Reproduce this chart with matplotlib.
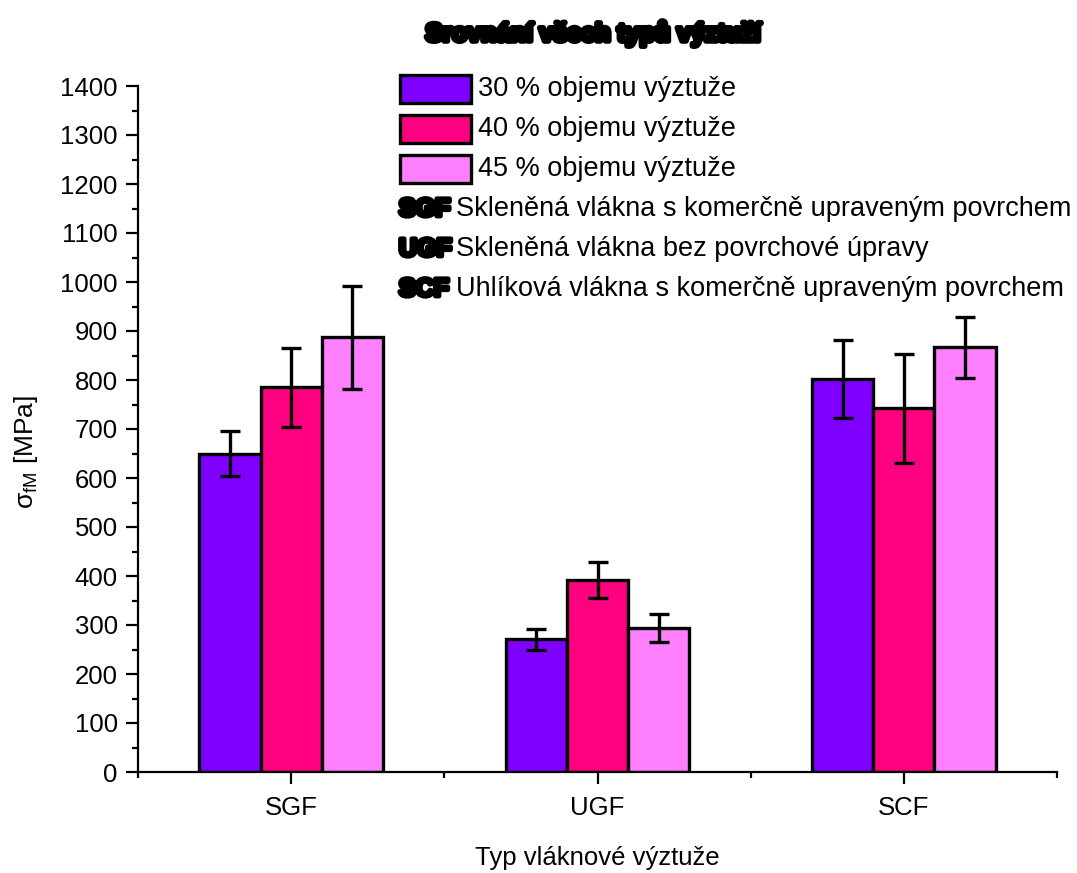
import matplotlib
matplotlib.use("Agg")
import matplotlib.pyplot as plt
import matplotlib.patheffects as pe
from matplotlib.patches import Rectangle
from matplotlib.ticker import MultipleLocator, FixedLocator
import numpy as np

plt.rcParams['font.family'] = ['Liberation Sans', 'DejaVu Sans']
plt.rcParams['mathtext.fontset'] = 'custom'
plt.rcParams['mathtext.rm'] = 'Liberation Sans'
plt.rcParams['mathtext.it'] = 'Liberation Sans:italic'

categories = ["SGF", "UGF", "SCF"]
series_labels = ["30 % objemu výztuže", "40 % objemu výztuže", "45 % objemu výztuže"]
values_30 = [650, 271, 802]
errors_30 = [45, 21, 80]
values_40 = [785, 392, 742]
errors_40 = [80, 37, 111]
values_45 = [887, 294, 867]
errors_45 = [105, 29, 62]
abbreviations = ["SGF", "UGF", "SCF"]
descriptions = ["Skleněná vlákna s komerčně upraveným povrchem",
                "Skleněná vlákna bez povrchové úpravy",
                "Uhlíková vlákna s komerčně upraveným povrchem"]
colors = ["#8000FF", "#FF0080", "#FF80FF"]

W, H = 1077, 873
fig = plt.figure(figsize=(W / 100, H / 100), dpi=100)
ax = fig.add_axes([138 / W, 1 - 772 / H, (1057 - 138) / W, (772 - 86) / H])

x = np.arange(1, len(categories) + 1)
width = 0.2
series = [(values_30, errors_30), (values_40, errors_40), (values_45, errors_45)]
for i, (vals, errs) in enumerate(series):
    pos = x + (i - 1) * width
    ax.bar(pos, vals, width=width, color=colors[i], edgecolor="black",
           linewidth=2.4, zorder=2)
    ax.errorbar(pos, vals, yerr=errs, fmt="none", ecolor="black",
                elinewidth=2.4, capsize=7.5, capthick=2.4, zorder=3)

ax.set_xlim(0.5, 3.5)
ax.set_ylim(0, 1400)
ax.set_xticks(x)
ax.set_xticklabels(categories)
ax.xaxis.set_minor_locator(FixedLocator([0.5, 1.5, 2.5, 3.5]))
ax.yaxis.set_major_locator(MultipleLocator(100))
ax.yaxis.set_minor_locator(MultipleLocator(50))

for s in ["top", "right"]:
    ax.spines[s].set_visible(False)
for s in ["left", "bottom"]:
    ax.spines[s].set_linewidth(1.6)

ax.tick_params(axis="both", which="major", direction="out", length=8.5,
               width=1.6, labelsize=18.5)
ax.tick_params(axis="y", which="major", pad=6)
ax.tick_params(axis="x", which="major", pad=9)
ax.tick_params(axis="both", which="minor", direction="out", length=4.5,
               width=1.6)

ax.set_ylabel("σ$_{\\mathrm{fM}}$ [MPa]", fontsize=19, va="center")
ax.yaxis.set_label_coords((26 - 138) / (1057 - 138), (772 - 452) / (772 - 86))
ax.set_xlabel("Typ vláknové výztuže", fontsize=18.5, va="center")
ax.xaxis.set_label_coords(0.5, (772 - 858) / (772 - 86))

heavy = [pe.withStroke(linewidth=4, foreground="black")]
fig.text(593 / W, 1 - 33 / H, "Srovnání všech typů výztuží", ha="center",
         va="center", fontsize=18, fontweight="bold", color="black",
         path_effects=heavy)


def fx(px):
    return px / W


def fy(py):
    return 1 - py / H


# legend entries for the series
row_y = [89, 129, 169]
for i, lab in enumerate(series_labels):
    yc = row_y[i]
    fig.patches.append(Rectangle((fx(400), fy(yc + 14)), fx(471) - fx(400),
                                 fy(yc - 14) - fy(yc + 14),
                                 transform=fig.transFigure, facecolor=colors[i],
                                 edgecolor="black", linewidth=2.4))
    fig.text(fx(478), fy(yc), lab, ha="left", va="center", fontsize=19.5)

# abbreviation key
abbr_y = [209, 249, 289]
heavy_small = [pe.withStroke(linewidth=3.5, foreground="black")]
for abbr, desc, yc in zip(abbreviations, descriptions, abbr_y):
    fig.text(fx(399), fy(yc), abbr, ha="left", va="center", fontsize=18,
             fontweight="bold", path_effects=heavy_small)
    fig.text(fx(456), fy(yc), desc, ha="left", va="center", fontsize=19.5)

fig.savefig("out.png", dpi=100)
